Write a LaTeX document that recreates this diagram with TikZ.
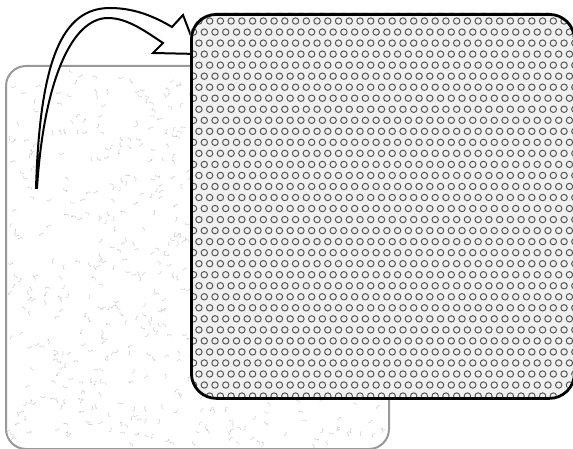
\documentclass[tikz,border=0pt]{standalone}
\begin{document}
\begin{tikzpicture}[x=1pt,y=-1pt,
  graybox/.style={draw=black!40,line width=2,rounded corners=20},
  blackbox/.style={draw=black,line width=2.8,rounded corners=25},
  dotcircle/.style={draw=black!68,line width=0.95},
  speck/.style={fill=black!22,draw=none},
  bigarrow/.style={draw=black,line width=2,fill=white,line join=miter}]
\useasboundingbox (0,0) rectangle (573,449);
\fill[white] (0,0) rectangle (573,449);
% gray textured card
\fill[white,rounded corners=20] (5,65) rectangle (388,448);
\begin{scope}
\clip[rounded corners=20] (5,65) rectangle (388,448);
\pgfmathsetseed{7}
\foreach \i in {1,...,700}{
  \pgfmathsetmacro{\px}{8+377*rnd}
  \pgfmathsetmacro{\py}{68+377*rnd}
  \pgfmathsetmacro{\pr}{0.3+0.7*rnd}
  \pgfmathsetmacro{\pa}{360*rnd}
  \fill[speck] (\px,\py) circle[radius=\pr];
  \draw[black!15,line width=0.6] (\px,\py) -- ++(\pa:3) -- ++(\pa+70:2);
}
\end{scope}
\node[graybox,draw,minimum width=383pt,minimum height=383pt,inner sep=0pt,anchor=north west] (back) at (5,65) {};
% arrow
\coordinate (tail) at (36,188);
\draw[bigarrow] (tail) .. controls (40,60) and (62,8) .. (110,8)
  .. controls (135,8) and (155,17) .. (172,27) -- (183,15) -- (198,54)
  -- (153,53) -- (163,43) .. controls (145,31) and (127,18) .. (108,18)
  .. controls (72,18) and (44,80) .. (37,188) -- cycle;
% front circle-patterned card
\begin{scope}
\clip[rounded corners=25] (190,13) rectangle (573,397);
\fill[black!6] (190,13) rectangle (573,397);
\foreach \r in {0,...,35}{
  \pgfmathsetmacro{\yy}{10+11.03*\r}
  \pgfmathsetmacro{\off}{mod(\r,2)==1 ? 0 : 5.37}
  \foreach \c in {0,...,37}{
    \draw[dotcircle] (182.8-\off+10.74*\c+5.37,\yy) circle[radius=3.2];
  }
}
\end{scope}
\node[blackbox,minimum width=383pt,minimum height=384pt,inner sep=0pt,anchor=north west] (front) at (190,13) {};
\end{tikzpicture}
\end{document}
